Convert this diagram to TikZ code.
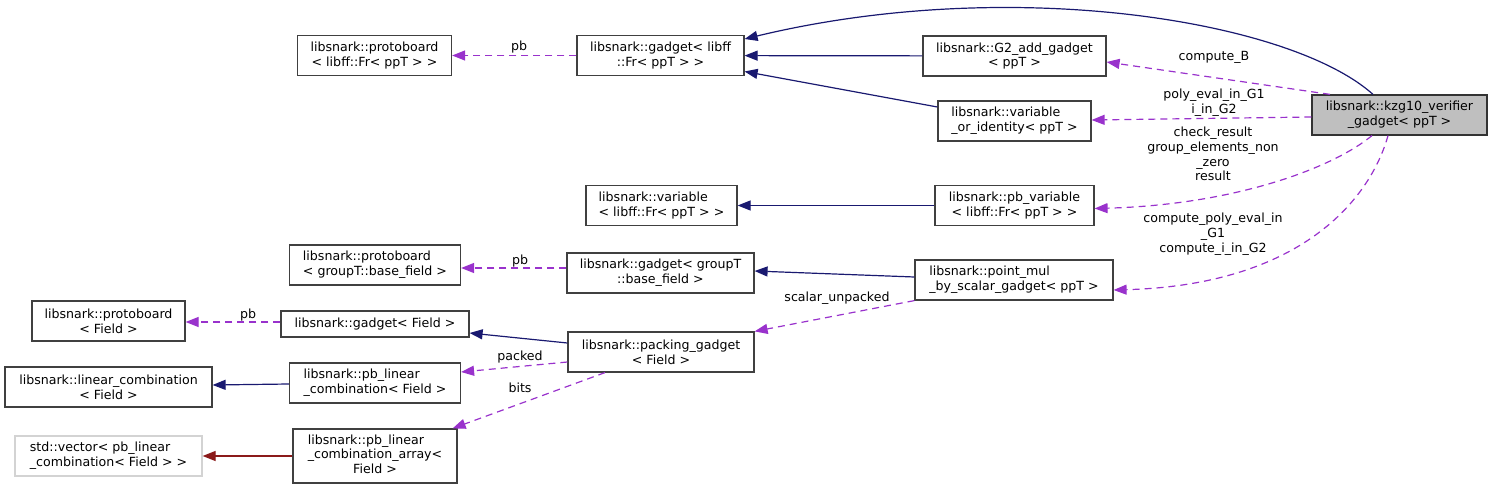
\documentclass[tikz,border=0pt]{standalone}
\usepackage{fontspec}
\setmainfont{DejaVu Sans}
\usepackage{tikz}
\usetikzlibrary{arrows.meta}
\definecolor{EdgeBlue}{RGB}{25,25,112}
\definecolor{EdgePurple}{RGB}{153,50,204}
\definecolor{EdgeRed}{RGB}{139,26,26}
\definecolor{BoxGray}{RGB}{64,64,64}
\definecolor{RootFill}{RGB}{191,191,191}
\definecolor{ExtGray}{RGB}{211,211,211}
\newcommand{\dxfont}{\fontsize{12.6}{14.7}\selectfont}
\tikzset{
	cls/.style={draw=BoxGray, fill=white, line width=1.2pt, inner xsep=0pt, inner ysep=0pt,
		minimum height=40pt, align=center, font=\dxfont},
	root/.style={cls, fill=RootFill, draw=black!80},
	ext/.style={cls, draw=ExtGray},
	inh/.style={-{Triangle[length=13pt,width=10pt]}, line width=1.2pt, draw=EdgeBlue},
	uses/.style={-{Triangle[length=13pt,width=10pt]}, line width=1.2pt, draw=EdgePurple,
		dash pattern=on 7pt off 5pt},
	tmpl/.style={-{Triangle[length=13pt,width=10pt]}, line width=1.2pt, draw=EdgeRed},
	lab/.style={inner sep=0pt, align=center, font=\dxfont}
}

\begin{document}
\begin{tikzpicture}[x=1pt, y=-1pt]
	\useasboundingbox (0,0) rectangle (1492,489);
	% classes
	\node[cls, minimum width=154pt] (pbLibff) at (374.5,55.5) {libsnark::protoboard\\< libff::Fr< ppT > >};
	\node[cls, minimum width=167pt] (gadLibff) at (660.5,55.5) {libsnark::gadget< libff\\::Fr< ppT > >};
	\node[cls, minimum width=183pt] (gtwoAdd) at (1014.5,56) {libsnark::G2\_add\_gadget\\< ppT >};
	\node[cls, minimum width=153pt, align=left] (varOrId) at (1014.5,121) {libsnark::variable\\\_or\_identity< ppT >};
	\node[root, minimum width=175pt] (kzg) at (1399.5,115) {libsnark::kzg10\_verifier\\\_gadget< ppT >};
	\node[cls, minimum width=151pt, align=left] (varLibff) at (661.5,205.5) {libsnark::variable\\< libff::Fr< ppT > >};
	\node[cls, minimum width=159pt] (pbVar) at (1014.5,205.5) {libsnark::pb\_variable\\< libff::Fr< ppT > >};
	\node[cls, minimum width=171pt, align=left] (pbGroup) at (375,265) {libsnark::protoboard\\< groupT::base\_field >};
	\node[cls, minimum width=187pt] (gadGroup) at (660.5,273) {libsnark::gadget< groupT\\::base\_field >};
	\node[cls, minimum width=198pt, align=left] (pointMul) at (1014,280) {libsnark::point\_mul\\\_by\_scalar\_gadget< ppT >};
	\node[cls, minimum width=153pt] (pbField) at (108.5,321) {libsnark::protoboard\\< Field >};
	\node[cls, minimum width=188pt, minimum height=26pt] (gadField) at (375,324) {libsnark::gadget< Field >};
	\node[cls, minimum width=186pt] (packing) at (661,352) {libsnark::packing\_gadget\\< Field >};
	\node[cls, minimum width=207pt] (linComb) at (108.5,387) {libsnark::linear\_combination\\< Field >};
	\node[cls, minimum width=171pt, align=left] (pbLinComb) at (375,383) {libsnark::pb\_linear\\\_combination< Field >};
	\node[ext, minimum width=187pt, align=left] (stdVec) at (108.5,456) {std::vector< pb\_linear\\\_combination< Field > >};
	\node[cls, minimum width=164pt, minimum height=54pt] (pbLinArr) at (375,456)
		{\begin{tabular}{@{}l@{}}libsnark::pb\_linear\\\_combination\_array<\\\multicolumn{1}{@{}c@{}}{Field >}\end{tabular}};

	% edge labels
	\node[lab] (lblPbTop) at (519,47) {pb};
	\node[lab] (lblComputeB) at (1214,57) {compute\_B};
	\node[lab] (lblPolyEval) at (1214,103) {poly\_eval\_in\_G1\\i\_in\_G2};
	\node[lab] (lblCheck) at (1213,154) {check\_result\\group\_elements\_non\\\_zero\\result};
	\node[lab] (lblComputePoly) at (1213,234) {compute\_poly\_eval\_in\\\_G1\\compute\_i\_in\_G2};
	\node[lab] (lblPbMid) at (520,261) {pb};
	\node[lab] (lblScalar) at (837,298) {scalar\_unpacked};
	\node[lab] (lblPbLow) at (248,315) {pb};
	\node[lab] (lblPacked) at (520,357) {packed};
	\node[lab] (lblBits) at (520,388) {bits};

	% edges
	\draw[uses] (gadLibff) -- (pbLibff);
	\draw[inh] (gtwoAdd) -- (gadLibff);
	\draw[inh] ([yshift=14pt]varOrId.west) -- ([yshift=-16pt]gadLibff.east);
	\draw[inh] ([xshift=-26.5pt]kzg.north) .. controls (1290,20) and (1010,-25) .. ([yshift=16.5pt]gadLibff.east);
	\draw[uses] ([xshift=-69.5pt]kzg.north) -- ([yshift=-6pt]gtwoAdd.east);
	\draw[uses] ([yshift=-2pt]kzg.west) -- ([yshift=1pt]varOrId.east);
	\draw[uses] ([xshift=-27.5pt]kzg.south) .. controls (1330,170) and (1230,205) .. ([yshift=-3pt]pbVar.east);
	\draw[uses] ([xshift=-11.5pt]kzg.south) .. controls (1370,200) and (1300,285) .. ([yshift=-10pt]pointMul.east);
	\draw[inh] (pbVar) -- (varLibff);
	\draw[inh] ([yshift=3pt]pointMul.west) -- ([yshift=2pt]gadGroup.east);
	\draw[uses] (pointMul.south west) -- (packing.north east);
	\draw[uses] ([yshift=5pt]gadGroup.west) -- ([yshift=-3pt]pbGroup.east);
	\draw[inh] ([yshift=9pt]packing.west) -- ([yshift=-9pt]gadField.east);
	\draw[uses] ([yshift=2pt]gadField.west) -- ([yshift=-1pt]pbField.east);
	\draw[uses] ([yshift=-10pt]packing.west) -- ([yshift=11pt]pbLinComb.east);
	\draw[uses] ([xshift=-56pt]packing.south) -- ([xshift=-5pt]pbLinArr.north east);
	\draw[inh] ([yshift=-1pt]pbLinComb.west) -- ([yshift=2pt]linComb.east);
	\draw[tmpl] (pbLinArr) -- (stdVec);
\end{tikzpicture}
\end{document}
